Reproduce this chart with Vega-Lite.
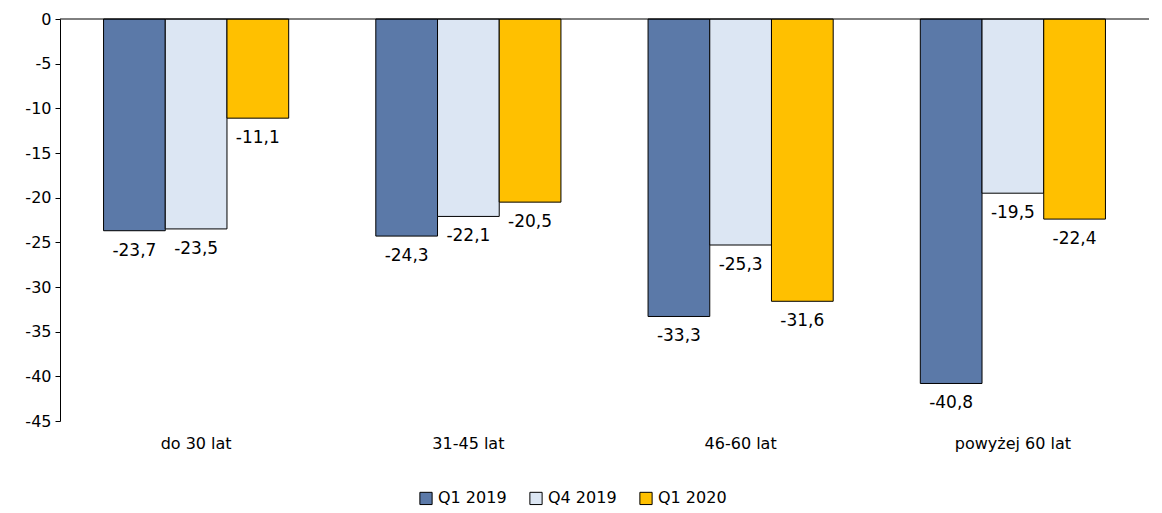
{
  "$schema": "https://vega.github.io/schema/vega-lite/v6.json",
  "width": 1162,
  "height": 513,
  "autosize": {"type": "fit", "contains": "padding"},
  "padding": {"top": 11, "left": 24, "right": 12, "bottom": 62},
  "background": "white",
  "config": {
    "view": {"stroke": null},
    "font": "DejaVu Sans",
    "locale": {"number": {"decimal": ",", "thousands": " ", "grouping": [3], "currency": ["", " zł"], "minus": "-"}},
    "axis": {"labelFontSize": 16, "labelColor": "black", "grid": false, "titleFontSize": 16},
    "legend": {"labelFontSize": 16, "labelColor": "black"}
  },
  "data": {
    "values": [
      {"grupa": "do 30 lat", "okres": "Q1 2019", "v": -23.7},
      {"grupa": "do 30 lat", "okres": "Q4 2019", "v": -23.5},
      {"grupa": "do 30 lat", "okres": "Q1 2020", "v": -11.1},
      {"grupa": "31-45 lat", "okres": "Q1 2019", "v": -24.3},
      {"grupa": "31-45 lat", "okres": "Q4 2019", "v": -22.1},
      {"grupa": "31-45 lat", "okres": "Q1 2020", "v": -20.5},
      {"grupa": "46-60 lat", "okres": "Q1 2019", "v": -33.3},
      {"grupa": "46-60 lat", "okres": "Q4 2019", "v": -25.3},
      {"grupa": "46-60 lat", "okres": "Q1 2020", "v": -31.6},
      {"grupa": "powyżej 60 lat", "okres": "Q1 2019", "v": -40.8},
      {"grupa": "powyżej 60 lat", "okres": "Q4 2019", "v": -19.5},
      {"grupa": "powyżej 60 lat", "okres": "Q1 2020", "v": -22.4}
    ]
  },
  "encoding": {
    "x": {
      "field": "grupa", "type": "nominal", "sort": null, "title": null,
      "scale": {"paddingInner": 0.32, "paddingOuter": 0.16},
      "axis": {"domain": false, "ticks": false, "labelAngle": 0, "labelPadding": 14}
    },
    "xOffset": {"field": "okres", "type": "nominal", "sort": ["Q1 2019", "Q4 2019", "Q1 2020"]}
  },
  "layer": [
    {
      "mark": {"type": "bar", "stroke": "black", "strokeWidth": 1},
      "encoding": {
        "y": {
          "field": "v", "type": "quantitative", "title": null,
          "scale": {"domain": [-45, 0]},
          "axis": {"values": [0, -5, -10, -15, -20, -25, -30, -35, -40, -45], "domainColor": "black", "tickColor": "black", "labelPadding": 4}
        },
        "color": {
          "field": "okres", "type": "nominal", "sort": ["Q1 2019", "Q4 2019", "Q1 2020"], "title": null,
          "scale": {"domain": ["Q1 2019", "Q4 2019", "Q1 2020"], "range": ["#5b79a8", "#dce6f3", "#ffc000"]},
          "legend": {"orient": "none", "legendX": 358, "legendY": 471, "direction": "horizontal", "symbolType": "square", "symbolSize": 150, "symbolStrokeColor": "black", "symbolStrokeWidth": 1, "columnPadding": 20}
        }
      }
    },
    {
      "mark": {"type": "text", "baseline": "top", "dy": 12, "fontSize": 17, "color": "black"},
      "encoding": {
        "y": {"field": "v", "type": "quantitative"},
        "text": {"field": "v", "type": "quantitative", "format": ".1f", "formatType": "number"}
      }
    },
    {
      "data": {"values": [{"z": 0}]},
      "mark": {"type": "rule", "color": "black"},
      "encoding": {"y": {"field": "z", "type": "quantitative"}, "x": null, "xOffset": null}
    }
  ]
}
